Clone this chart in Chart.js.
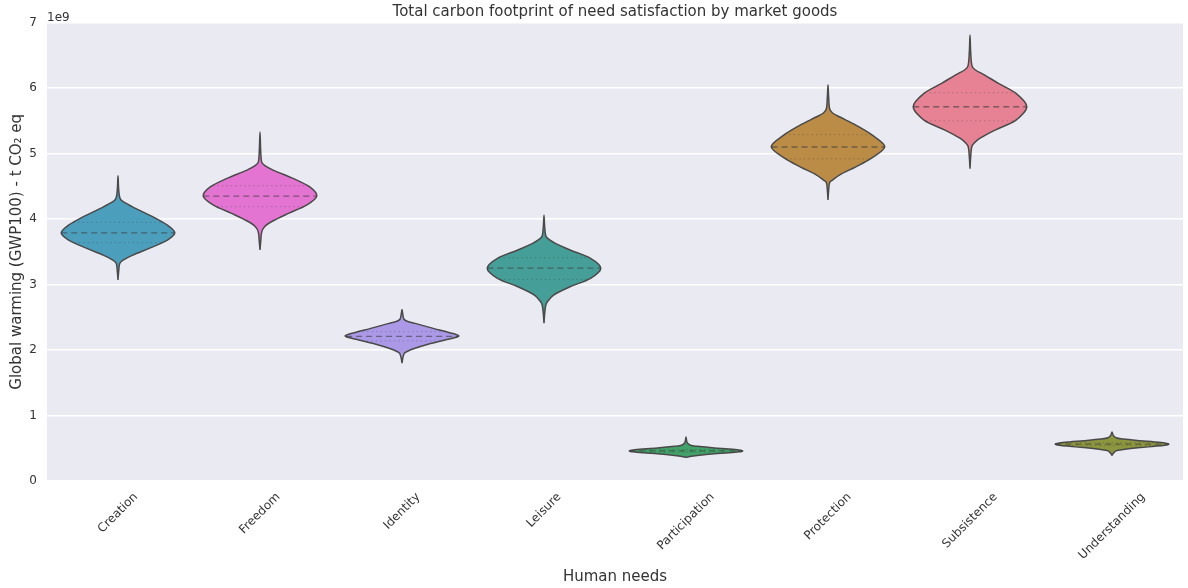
<!DOCTYPE html>
<html>
<head>
<meta charset="utf-8">
<script src="https://cdn.jsdelivr.net/npm/chart.js@4/dist/chart.umd.min.js"></script>
<style>
  html, body { margin: 0; padding: 0; background: #ffffff; }
  #wrap { width: 1188px; height: 588px; }
</style>
</head>
<body>
<div id="wrap"><canvas id="chart" width="1188" height="588"></canvas></div>
<script>
// Human needs on the x axis
const categories = ['Creation', 'Freedom', 'Identity', 'Leisure', 'Participation', 'Protection', 'Subsistence', 'Understanding'];

// y tick values, in units of 1e9 t CO2 eq
const yTickValues = [0, 1, 2, 3, 4, 5, 6, 7];

// Violin fill colours (husl palette, slightly desaturated)
const fillColors = ['#4c9ebd', '#e374d1', '#ab99e7', '#459e97', '#42a169', '#bb8c46', '#e68294', '#8c963f'];

// Summary statistics per need (1e9 t CO2 eq)
const medians   = [3.79, 4.35, 2.21, 3.25, 0.46, 5.10, 5.715, 0.563];
const quartile1 = [3.64, 4.19, 2.14, 3.08, 0.44, 4.92, 5.50, 0.54];
const quartile3 = [3.95, 4.51, 2.28, 3.41, 0.48, 5.29, 5.93, 0.585];

// Density profiles: value levels (1e9 t CO2 eq) and relative density (1 = widest)
const creationLevels = [3.07, 3.20, 3.32, 3.374, 3.45, 3.552, 3.679, 3.79, 3.908, 4.036, 4.163, 4.265, 4.316, 4.45, 4.66];
const creationWidths = [0, 0.012, 0.03, 0.09, 0.26, 0.55, 0.87, 1, 0.87, 0.61, 0.31, 0.09, 0.035, 0.012, 0];

const freedomLevels = [3.53, 3.65, 3.80, 3.883, 3.959, 4.087, 4.214, 4.351, 4.494, 4.621, 4.748, 4.82, 4.87, 5.05, 5.33];
const freedomWidths = [0, 0.012, 0.03, 0.08, 0.2, 0.5, 0.82, 1, 0.87, 0.58, 0.23, 0.08, 0.03, 0.012, 0];

const identityLevels = [1.80, 1.88, 1.95, 1.974, 2.026, 2.087, 2.153, 2.214, 2.265, 2.331, 2.407, 2.44, 2.47, 2.54, 2.62];
const identityWidths = [0, 0.015, 0.04, 0.08, 0.23, 0.46, 0.76, 1, 0.84, 0.55, 0.23, 0.09, 0.035, 0.015, 0];

const leisureLevels = [2.41, 2.55, 2.68, 2.738, 2.84, 2.966, 3.095, 3.247, 3.40, 3.527, 3.629, 3.70, 3.75, 3.88, 4.06];
const leisureWidths = [0, 0.012, 0.03, 0.06, 0.17, 0.46, 0.82, 1, 0.82, 0.46, 0.2, 0.07, 0.03, 0.012, 0];

const participationLevels = [0.36, 0.375, 0.39, 0.415, 0.43, 0.445, 0.46, 0.475, 0.49, 0.505, 0.53, 0.545, 0.58, 0.62, 0.67];
const participationWidths = [0, 0.07, 0.2, 0.5, 0.75, 0.93, 1, 0.93, 0.75, 0.5, 0.2, 0.08, 0.025, 0.01, 0];

const protectionLevels = [4.29, 4.45, 4.56, 4.595, 4.672, 4.798, 4.927, 5.104, 5.282, 5.435, 5.562, 5.62, 5.68, 5.85, 6.05];
const protectionWidths = [0, 0.012, 0.03, 0.08, 0.2, 0.49, 0.76, 1, 0.78, 0.49, 0.2, 0.08, 0.03, 0.012, 0];

const subsistenceLevels = [4.77, 4.95, 5.10, 5.156, 5.232, 5.359, 5.511, 5.715, 5.919, 6.072, 6.198, 6.28, 6.34, 6.55, 6.81];
const subsistenceWidths = [0, 0.012, 0.03, 0.07, 0.17, 0.44, 0.81, 1, 0.81, 0.5, 0.26, 0.09, 0.035, 0.012, 0];

const understandingLevels = [0.39, 0.42, 0.46, 0.48, 0.51, 0.53, 0.547, 0.563, 0.58, 0.597, 0.615, 0.64, 0.66, 0.70, 0.75];
const understandingWidths = [0, 0.02, 0.07, 0.2, 0.5, 0.75, 0.93, 1, 0.93, 0.75, 0.5, 0.2, 0.07, 0.02, 0];

const profiles = [
  [creationLevels, creationWidths],
  [freedomLevels, freedomWidths],
  [identityLevels, identityWidths],
  [leisureLevels, leisureWidths],
  [participationLevels, participationWidths],
  [protectionLevels, protectionWidths],
  [subsistenceLevels, subsistenceWidths],
  [understandingLevels, understandingWidths]
];

// half of the violin width, in category units
const HALF_WIDTH = 0.4;
const OUTLINE = '#4a4a4a';
const TEXT = '#333333';

// closed outline: right side going up, left side coming back down
function outline(i, levels, widths) {
  const right = levels.map((v, k) => ({ x: i + widths[k] * HALF_WIDTH, y: v }));
  const left = levels.map((v, k) => ({ x: i - widths[k] * HALF_WIDTH, y: v })).reverse();
  return right.concat(left.slice(1));
}

// density at a value, linear between profile levels
function widthAt(levels, widths, y) {
  for (let k = 0; k < levels.length - 1; k++) {
    if (y >= levels[k] && y <= levels[k + 1]) {
      const t = (y - levels[k]) / (levels[k + 1] - levels[k]);
      return widths[k] + t * (widths[k + 1] - widths[k]);
    }
  }
  return 0;
}

function innerLine(i, levels, widths, y, dash, width, color) {
  const w = widthAt(levels, widths, y) * HALF_WIDTH;
  return {
    type: 'line',
    data: [{ x: i - w, y: y }, { x: i + w, y: y }],
    borderColor: color,
    borderWidth: width,
    borderDash: dash,
    pointRadius: 0,
    fill: false,
    order: 0
  };
}

const datasets = [];
profiles.forEach(([levels, widths], i) => {
  datasets.push({
    type: 'line',
    label: categories[i],
    data: outline(i, levels, widths),
    backgroundColor: fillColors[i],
    borderColor: OUTLINE,
    borderWidth: 1.5,
    pointRadius: 0,
    tension: 0.3,
    fill: 'shape',
    order: 1
  });
  datasets.push(innerLine(i, levels, widths, medians[i], [6, 4], 1.3, 'rgba(60,60,60,0.6)'));
  datasets.push(innerLine(i, levels, widths, quartile1[i], [1.5, 3], 1.0, 'rgba(60,60,60,0.3)'));
  datasets.push(innerLine(i, levels, widths, quartile3[i], [1.5, 3], 1.0, 'rgba(60,60,60,0.3)'));
});

// plot background and the axis offset text
const plotBackground = {
  id: 'plotBackground',
  beforeDraw(chart) {
    const { ctx, chartArea: { left, top, width, height } } = chart;
    ctx.save();
    ctx.fillStyle = '#EAEAF2';
    ctx.fillRect(left, top, width, height);
    ctx.restore();
  },
  afterDraw(chart) {
    const { ctx, chartArea: { left, top } } = chart;
    ctx.save();
    ctx.font = '12px "DejaVu Sans"';
    ctx.fillStyle = TEXT;
    ctx.textAlign = 'left';
    ctx.textBaseline = 'alphabetic';
    ctx.fillText('1e9', left, top - 2);
    ctx.restore();
  }
};

Chart.defaults.font.family = '"DejaVu Sans", sans-serif';
Chart.defaults.color = TEXT;

new Chart(document.getElementById('chart'), {
  type: 'scatter',
  data: { datasets },
  plugins: [plotBackground],
  options: {
    responsive: false,
    devicePixelRatio: 1,
    animation: false,
    layout: { padding: { left: 0, right: 5, top: 0, bottom: 0 } },
    plugins: {
      legend: { display: false },
      tooltip: { enabled: false },
      title: {
        display: true,
        text: 'Total carbon footprint of need satisfaction by market goods',
        fullSize: false,
        color: TEXT,
        font: { size: 15, weight: 'normal' },
        padding: { top: 3, bottom: 1.6 }
      }
    },
    scales: {
      x: {
        type: 'linear',
        min: -0.5,
        max: categories.length - 0.5,
        grid: { display: false, drawTicks: false },
        border: { display: false },
        afterBuildTicks(axis) {
          axis.ticks = categories.map((c, i) => ({ value: i }));
        },
        afterFit(axis) { axis.height = 107; },
        // centre each rotated label under its violin
        afterUpdate(axis) {
          const ctx = axis.ctx;
          ctx.save();
          ctx.font = '12px "DejaVu Sans"';
          const unit = (axis.right - axis.left) / (axis.max - axis.min);
          axis.ticks.forEach(t => {
            const w = ctx.measureText(String(t.label)).width;
            t.value = Math.round(t.value) + (w * Math.SQRT1_2 / 2) / unit;
          });
          ctx.restore();
        },
        ticks: {
          autoSkip: false,
          minRotation: 45,
          maxRotation: 45,
          padding: 9,
          font: { size: 12 },
          color: TEXT,
          callback: (v) => categories[Math.round(v)]
        },
        title: {
          display: true,
          text: 'Human needs',
          color: TEXT,
          font: { size: 15 },
          padding: { top: 0, bottom: 2 }
        }
      },
      y: {
        type: 'linear',
        min: 0,
        max: 7,
        afterBuildTicks(axis) {
          axis.ticks = yTickValues.map(v => ({ value: v }));
        },
        afterFit(axis) { axis.width = 47; },
        grid: { color: '#ffffff', lineWidth: 1.5, drawTicks: false },
        border: { display: false },
        ticks: {
          padding: 10,
          font: { size: 12 },
          color: TEXT,
          callback: (v) => String(v)
        },
        title: {
          display: true,
          text: 'Global warming (GWP100) - t CO₂ eq',
          color: TEXT,
          font: { size: 15 },
          padding: { top: 8, bottom: 0 }
        }
      }
    }
  }
});
</script>
</body>
</html>
